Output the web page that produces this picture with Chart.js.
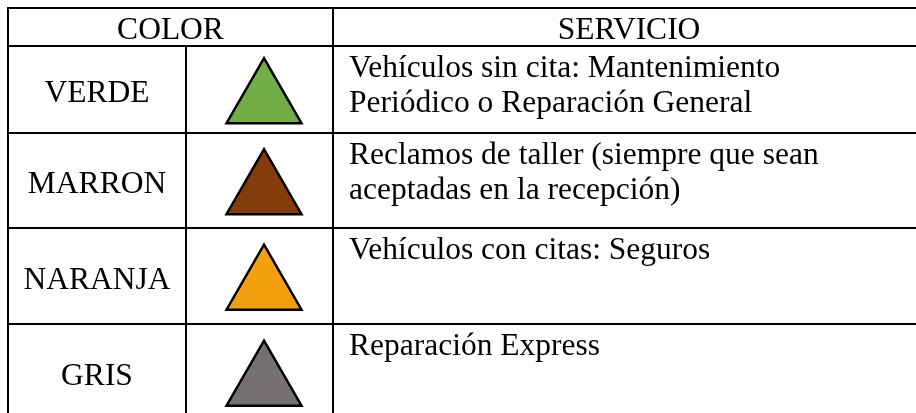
<!DOCTYPE html>
<html>
<head>
<meta charset="utf-8">
<script src="https://cdn.jsdelivr.net/npm/chart.js@4"></script>
<style>
  html, body { margin: 0; padding: 0; background: #ffffff; }
  #wrap { width: 916px; height: 413px; }
</style>
</head>
<body>
<div id="wrap"><canvas id="c" width="916" height="413"></canvas></div>
<script>
// ---- data ----
const headers = ['COLOR', 'SERVICIO'];
const colorNames = ['VERDE', 'MARRON', 'NARANJA', 'GRIS'];
const services = [
  ['Vehículos sin cita: Mantenimiento', 'Periódico o Reparación General'],
  ['Reclamos de taller (siempre que sean', 'aceptadas en la recepción)'],
  ['Vehículos con citas: Seguros'],
  ['Reparación Express']
];
const triangleFills = ['#70AD47', '#843C0C', '#F2A00F', '#767171'];

// ---- layout (pixel units of the scales) ----
const colX = [8, 186, 333, 927];
const rowY = [8, 46, 133, 228, 324, 420];
const FONT = '31.5px "Liberation Serif", "Times New Roman", serif';
const LINE_H = 35;

const rowCenter = i => (rowY[i + 1] + rowY[i + 2]) / 2;
const triData = colorNames.map((n, i) => ({ x: (colX[1] + colX[2]) / 2 + 4.5, y: rowCenter(i) + 12 }));

const tablePlugin = {
  id: 'table',
  beforeDatasetsDraw(chart) {
    const { ctx, scales: { x, y } } = chart;
    const px = v => x.getPixelForValue(v), py = v => y.getPixelForValue(v);
    ctx.save();
    ctx.strokeStyle = '#000';
    ctx.lineWidth = 2;
    ctx.beginPath();
    rowY.forEach(v => { ctx.moveTo(px(colX[0] - 1), py(v)); ctx.lineTo(px(colX[3]), py(v)); });
    ctx.moveTo(px(colX[0]), py(rowY[0])); ctx.lineTo(px(colX[0]), py(rowY[rowY.length - 1]));
    ctx.moveTo(px(colX[1]), py(rowY[1])); ctx.lineTo(px(colX[1]), py(rowY[rowY.length - 1]));
    ctx.moveTo(px(colX[2]), py(rowY[0])); ctx.lineTo(px(colX[2]), py(rowY[rowY.length - 1]));
    ctx.stroke();

    ctx.fillStyle = '#000';
    ctx.font = FONT;
    ctx.textBaseline = 'alphabetic';
    ctx.textAlign = 'center';
    ctx.fillText(headers[0], px((colX[0] + colX[2]) / 2), py(rowY[0] + 31));
    ctx.fillText(headers[1], px((colX[2] + colX[3]) / 2 - 1), py(rowY[0] + 31));
    colorNames.forEach((n, i) => {
      ctx.fillText(n, px((colX[0] + colX[1]) / 2), py(rowCenter(i) + 12.5));
    });
    ctx.textAlign = 'left';
    services.forEach((lines, i) => {
      lines.forEach((t, k) => {
        ctx.fillText(t, px(colX[2] + 16), py(rowY[i + 1] + 31 + k * LINE_H));
      });
    });
    ctx.restore();
  }
};

new Chart(document.getElementById('c'), {
  type: 'scatter',
  data: {
    datasets: [{
      data: triData,
      pointStyle: 'triangle',
      pointRadius: 43.3,
      pointHoverRadius: 43.3,
      backgroundColor: triangleFills,
      borderColor: '#000',
      borderWidth: 2.5,
      pointHoverBorderWidth: 2.5,
      clip: false
    }]
  },
  options: {
    responsive: false,
    animation: false,
    devicePixelRatio: 1,
    layout: { padding: 0, autoPadding: false },
    events: [],
    plugins: { legend: { display: false }, tooltip: { enabled: false } },
    scales: {
      x: { type: 'linear', min: 0, max: 916, display: false },
      y: { type: 'linear', min: 0, max: 413, reverse: true, display: false }
    }
  },
  plugins: [tablePlugin]
});
</script>
</body>
</html>
